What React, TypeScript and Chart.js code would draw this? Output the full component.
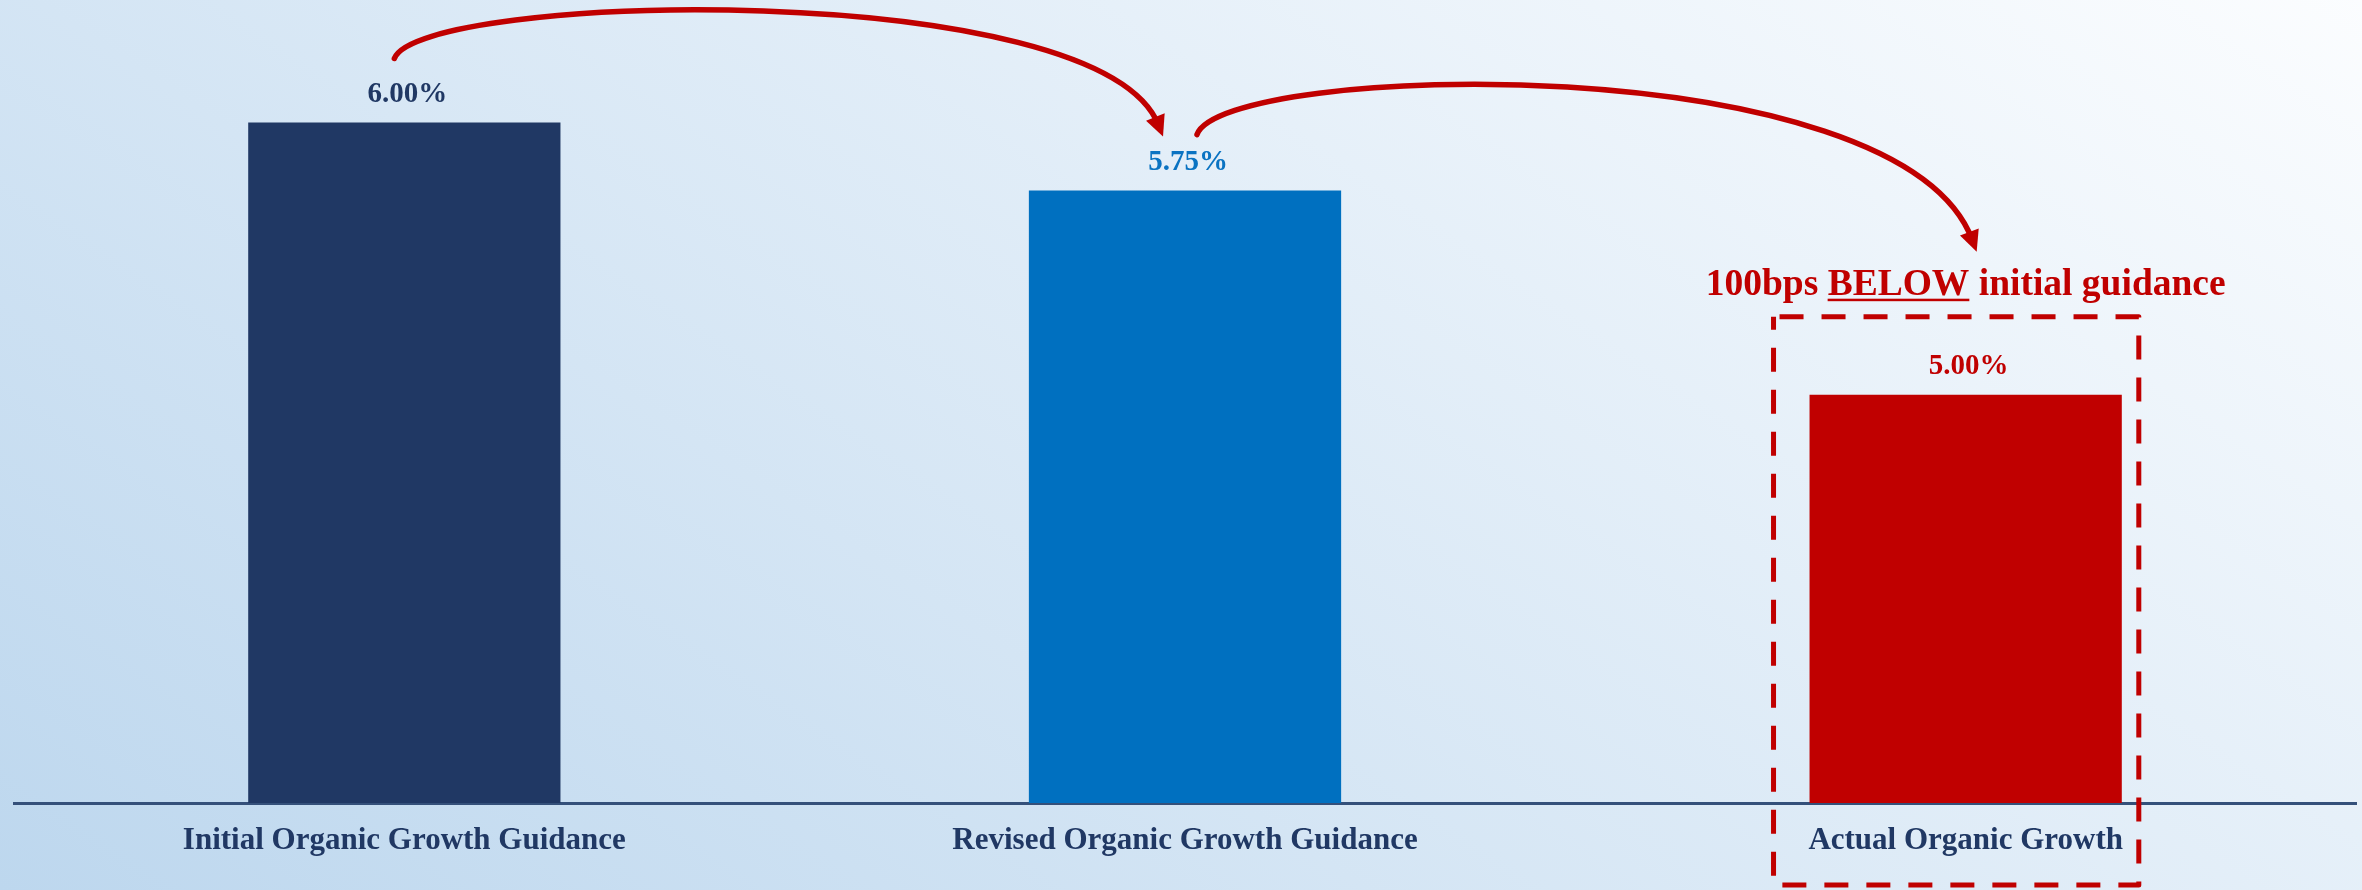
import React, { useEffect, useRef } from "react";
import { Chart, registerables } from "chart.js";

Chart.register(...registerables);

const categories = [
  "Initial Organic Growth Guidance",
  "Revised Organic Growth Guidance",
  "Actual Organic Growth",
];
const values = [6.0, 5.75, 5.0];
const valueLabels = ["6.00%", "5.75%", "5.00%"];
const barColors = ["#203864", "#0070C0", "#C00000"];
const labelColors = ["#203864", "#0a73c2", "#C00000"];
const annotationPrefix = "100bps ";
const annotationBold = "BELOW";
const annotationSuffix = " initial guidance";

const RED = "#C00000";
const SERIF = "'Liberation Serif', 'Times New Roman', serif";

const bgPlugin = {
  id: "bg",
  beforeDraw(chart: any) {
    const { ctx, width, height } = chart;
    ctx.save();
    const g = ctx.createLinearGradient(0, height, 1175, height - 1759);
    g.addColorStop(0, "#bdd7ee");
    g.addColorStop(1, "#fdfeff");
    ctx.fillStyle = g;
    ctx.fillRect(0, 0, width, height);
    ctx.restore();
  },
};

function bez(ctx: any, p0: number[], p1: number[], p2: number[], p3: number[]) {
  const dx = p3[0] - p2[0];
  const dy = p3[1] - p2[1];
  const len = Math.hypot(dx, dy);
  const ux = dx / len;
  const uy = dy / len;
  const end = [p3[0] - ux * 12, p3[1] - uy * 12];
  ctx.beginPath();
  ctx.moveTo(p0[0], p0[1]);
  ctx.bezierCurveTo(p1[0], p1[1], p2[0], p2[1], end[0], end[1]);
  ctx.stroke();
  const hl = 21;
  const hw = 10;
  const bx = p3[0] - ux * hl;
  const by = p3[1] - uy * hl;
  ctx.beginPath();
  ctx.moveTo(p3[0], p3[1]);
  ctx.lineTo(bx - uy * hw, by + ux * hw);
  ctx.lineTo(bx + uy * hw, by - ux * hw);
  ctx.closePath();
  ctx.fill();
}

const annoPlugin = {
  id: "anno",
  afterDatasetsDraw(chart: any) {
    const { ctx } = chart;
    const meta = chart.getDatasetMeta(0);
    const bars = meta.data;
    ctx.save();
    ctx.font = `bold 29px ${SERIF}`;
    ctx.textAlign = "center";
    ctx.textBaseline = "middle";
    bars.forEach((b: any, i: number) => {
      ctx.fillStyle = labelColors[i];
      ctx.fillText(valueLabels[i], b.x + 3, b.y - 28);
    });

    const b1 = bars[0];
    const b2 = bars[1];
    const b3 = bars[2];

    ctx.strokeStyle = RED;
    ctx.fillStyle = RED;
    ctx.lineWidth = 5.5;
    ctx.lineCap = "round";
    bez(
      ctx,
      [b1.x - 10, b1.y - 64],
      [b1.x + 14, b1.y - 130],
      [b2.x - 85, b2.y - 215],
      [b2.x - 22, b2.y - 54]
    );
    bez(
      ctx,
      [b2.x + 12, b2.y - 56],
      [b2.x + 38, b2.y - 128],
      [b3.x - 66, b3.y - 350],
      [b3.x + 11, b3.y - 143]
    );

    ctx.font = `bold 37.5px ${SERIF}`;
    ctx.textAlign = "left";
    ctx.textBaseline = "alphabetic";
    const w1 = ctx.measureText(annotationPrefix).width;
    const w2 = ctx.measureText(annotationBold).width;
    const w3 = ctx.measureText(annotationSuffix).width;
    const total = w1 + w2 + w3;
    const ty = b3.y - 100;
    const tx = b3.x - total / 2;
    ctx.fillStyle = RED;
    ctx.fillText(annotationPrefix, tx, ty);
    ctx.fillText(annotationBold, tx + w1, ty);
    ctx.fillText(annotationSuffix, tx + w1 + w2, ty);
    ctx.fillRect(tx + w1, ty + 4, w2, 2.5);

    ctx.lineWidth = 5;
    ctx.lineCap = "butt";
    ctx.lineJoin = "round";
    ctx.setLineDash([24, 18]);
    const half = b3.width / 2;
    const left = b3.x - half - 36;
    const right = b3.x + half + 17;
    const top = b3.y - 78;
    const bottom = chart.height - 5;
    ctx.beginPath();
    ctx.moveTo(left + 6, top);
    ctx.lineTo(right, top);
    ctx.lineTo(right, bottom);
    ctx.lineTo(left, bottom);
    ctx.lineTo(left, top);
    ctx.stroke();
    ctx.restore();
  },
};

export default function App() {
  const ref = useRef<HTMLCanvasElement | null>(null);
  useEffect(() => {
    if (!ref.current) return;
    const chart = new Chart(ref.current, {
      type: "bar",
      data: {
        labels: categories,
        datasets: [
          {
            data: values,
            backgroundColor: barColors,
            borderWidth: 0,
            categoryPercentage: 1,
            barPercentage: 0.4,
          },
        ],
      },
      options: {
        animation: false,
        responsive: true,
        maintainAspectRatio: false,
        layout: { padding: { left: 14, right: 6, top: 0, bottom: 0 } },
        plugins: {
          legend: { display: false },
          tooltip: { enabled: false },
        },
        scales: {
          x: {
            grid: { display: false, drawTicks: false },
            border: { display: true, color: "#34507a", width: 3 },
            ticks: {
              color: "#203864",
              padding: 19,
              font: { family: SERIF, weight: "bold", size: 31 },
              maxRotation: 0,
            },
            afterFit(scale: any) {
              scale.height = 87;
            },
          },
          y: {
            display: false,
            min: 3.5,
            max: 6.45,
            beginAtZero: false,
          },
        },
      },
      plugins: [bgPlugin, annoPlugin],
    });
    return () => chart.destroy();
  }, []);
  return (
    <div style={{ position: "absolute", left: 0, top: 0, width: 2362, height: 890 }}>
      <canvas ref={ref} />
    </div>
  );
}
